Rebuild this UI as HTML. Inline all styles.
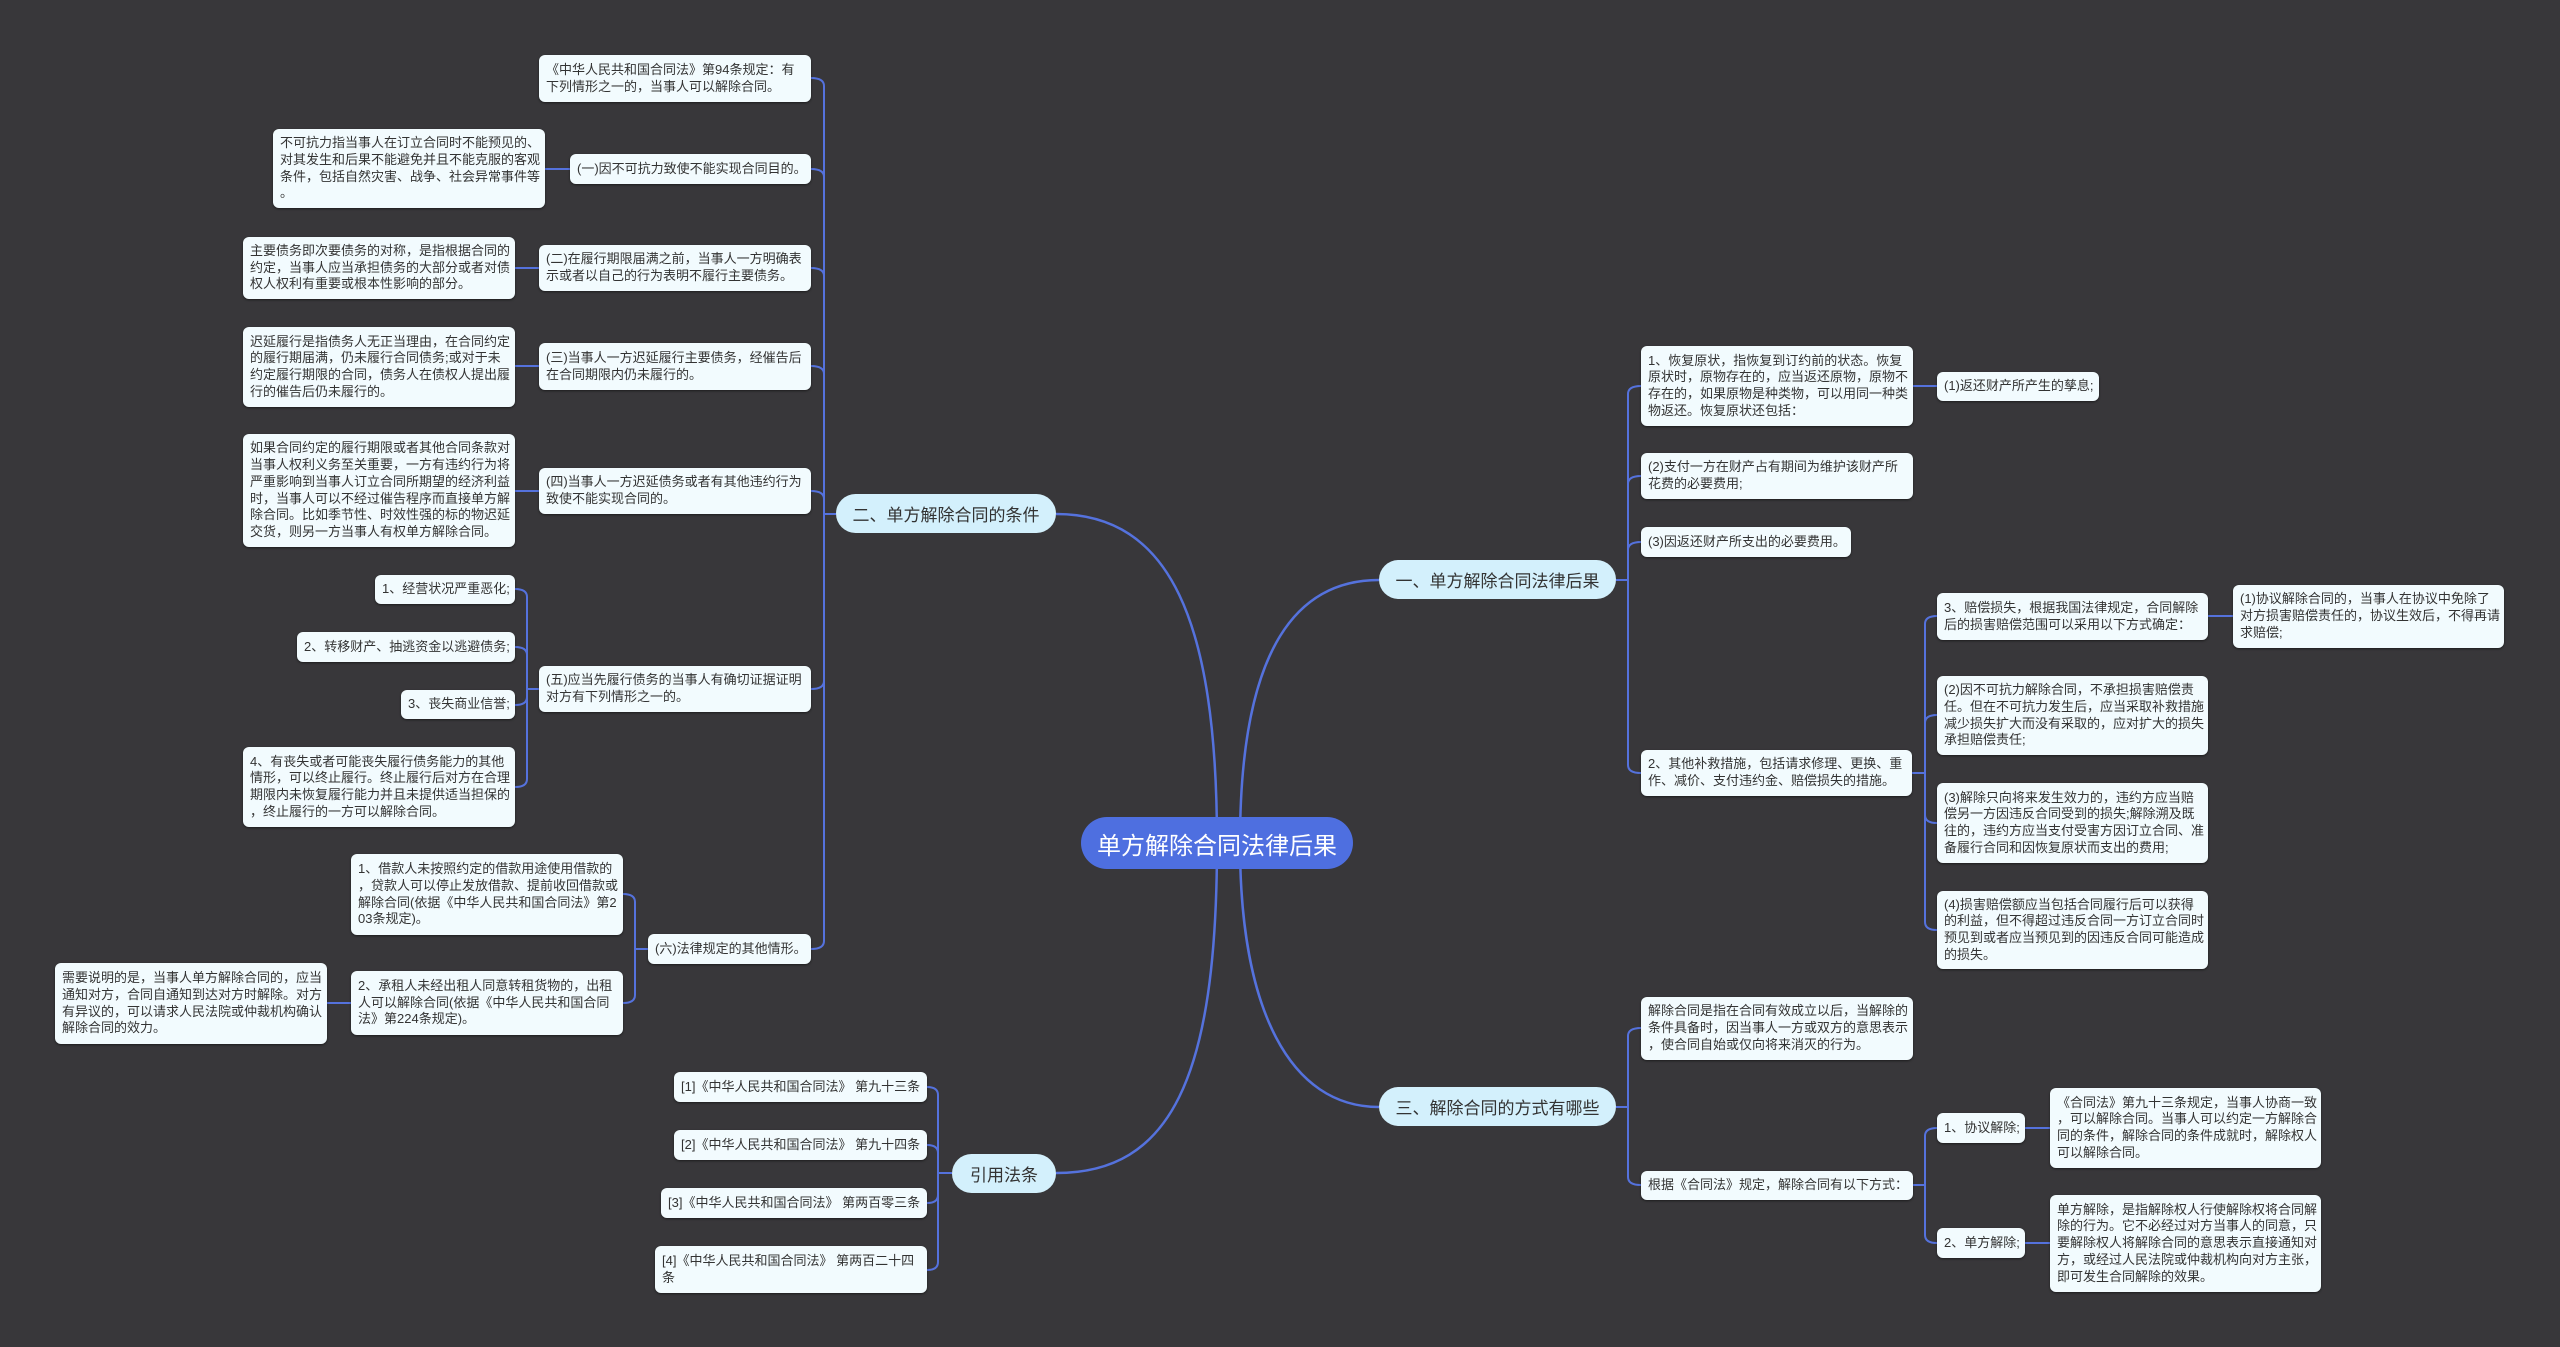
<!DOCTYPE html>
<html><head><meta charset="utf-8">
<style>
body{margin:0;width:2560px;height:1347px;background:#38373a;overflow:hidden;position:relative;font-family:"Liberation Sans","Noto Sans CJK SC",sans-serif;}
svg{position:absolute;left:0;top:0}
.n{position:absolute;box-sizing:border-box;background:#f2fbfe;border-radius:6px;color:#333;font-size:13px;line-height:16.7px;padding:0 7px;display:flex;align-items:center;white-space:nowrap;box-shadow:0 1px 2px rgba(0,0,0,.5)}
.b{position:absolute;box-sizing:border-box;background:#d3f0fc;border-radius:22px;color:#333;font-size:17px;display:flex;align-items:center;justify-content:center;white-space:nowrap}
.r{position:absolute;box-sizing:border-box;background:#4e6fe0;border-radius:30px;color:#fff;font-size:24px;display:flex;align-items:center;justify-content:center;white-space:nowrap}
</style></head><body>
<svg width="2560" height="1347" fill="none" stroke="#5572dd" stroke-width="2">
<!-- main branches -->
<path d="M1217,843 C1217,620 1170,514 1056,514" stroke-width="2.5"/>
<path d="M1240,843 C1240,660 1290,580 1379,580" stroke-width="2.5"/>
<path d="M1240,843 C1240,1010 1290,1107 1379,1107" stroke-width="2.5"/>
<path d="M1217,843 C1217,1080 1170,1173 1056,1173" stroke-width="2.5"/>
<!-- left branch 二 -->
<g>
<path d="M836,514 H824 V86 Q824,78 811,78"/>
<path d="M824,514 V177 Q824,169 811,169"/>
<path d="M824,514 V276 Q824,268 811,268"/>
<path d="M824,514 V374 Q824,366 811,366"/>
<path d="M824,514 V499 Q824,491 811,491"/>
<path d="M824,514 V681 Q824,689 811,689"/>
<path d="M824,514 V941 Q824,949 811,949"/>
<path d="M570,169 H545"/><path d="M539,268 H515"/><path d="M539,366 H515"/><path d="M539,491 H515"/>
<path d="M539,689 H527 V597 Q527,589 515,589"/>
<path d="M527,689 V655 Q527,647 515,647"/>
<path d="M527,689 V697 Q527,705 515,705"/>
<path d="M527,689 V779 Q527,787 515,787"/>
<path d="M648,949 H635 V902 Q635,894 623,894"/>
<path d="M635,949 V995 Q635,1003 623,1003"/>
<path d="M351,1003 H327"/>
<path d="M952,1173 H938 V1095 Q938,1087 927,1087"/>
<path d="M938,1173 V1153 Q938,1145 927,1145"/>
<path d="M938,1173 V1195 Q938,1203 927,1203"/>
<path d="M938,1173 V1262 Q938,1270 927,1270"/>
</g>
<!-- right 一 -->
<path d="M1616,580 H1628 V394 Q1628,386 1641,386"/>
<path d="M1628,580 V484 Q1628,476 1641,476"/>
<path d="M1628,580 V550 Q1628,542 1641,542"/>
<path d="M1628,580 V765 Q1628,773 1641,773"/>
<path d="M1913,386 H1937"/>
<path d="M1912,773 H1925 V624 Q1925,616 1937,616"/>
<path d="M1925,773 V723 Q1925,715 1937,715"/>
<path d="M1925,773 V815 Q1925,823 1937,823"/>
<path d="M1925,773 V922 Q1925,930 1937,930"/>
<path d="M2208,616 H2233"/>
<!-- right 三 -->
<path d="M1616,1107 H1628 V1036 Q1628,1028 1641,1028"/>
<path d="M1628,1107 V1177 Q1628,1185 1641,1185"/>
<path d="M1913,1185 H1925 V1136 Q1925,1128 1937,1128"/>
<path d="M1925,1185 V1235 Q1925,1243 1937,1243"/>
<path d="M2025,1128 H2050"/><path d="M2025,1243 H2050"/>
</svg>

<div class="r" style="left:1081px;top:817px;width:272px;height:52px">单方解除合同法律后果</div>
<div class="b" style="left:836px;top:494px;width:220px;height:39px">二、单方解除合同的条件</div>
<div class="b" style="left:1379px;top:560px;width:237px;height:39px">一、单方解除合同法律后果</div>
<div class="b" style="left:1379px;top:1087px;width:237px;height:39px">三、解除合同的方式有哪些</div>
<div class="b" style="left:952px;top:1154px;width:104px;height:39px">引用法条</div>

<div class="n" style="left:539px;top:55px;width:272px;height:47px">《中华人民共和国合同法》第94条规定：有<br>下列情形之一的，当事人可以解除合同。</div>
<div class="n" style="left:570px;top:154px;width:241px;height:30px">(一)因不可抗力致使不能实现合同目的。</div>
<div class="n" style="left:273px;top:129px;width:272px;height:79px">不可抗力指当事人在订立合同时不能预见的、<br>对其发生和后果不能避免并且不能克服的客观<br>条件，包括自然灾害、战争、社会异常事件等<br>。</div>
<div class="n" style="left:539px;top:245px;width:272px;height:46px">(二)在履行期限届满之前，当事人一方明确表<br>示或者以自己的行为表明不履行主要债务。</div>
<div class="n" style="left:243px;top:237px;width:272px;height:62px">主要债务即次要债务的对称，是指根据合同的<br>约定，当事人应当承担债务的大部分或者对债<br>权人权利有重要或根本性影响的部分。</div>
<div class="n" style="left:539px;top:343px;width:272px;height:47px">(三)当事人一方迟延履行主要债务，经催告后<br>在合同期限内仍未履行的。</div>
<div class="n" style="left:243px;top:327px;width:272px;height:80px">迟延履行是指债务人无正当理由，在合同约定<br>的履行期届满，仍未履行合同债务;或对于未<br>约定履行期限的合同，债务人在债权人提出履<br>行的催告后仍未履行的。</div>
<div class="n" style="left:539px;top:468px;width:272px;height:46px">(四)当事人一方迟延债务或者有其他违约行为<br>致使不能实现合同的。</div>
<div class="n" style="left:243px;top:434px;width:272px;height:113px">如果合同约定的履行期限或者其他合同条款对<br>当事人权利义务至关重要，一方有违约行为将<br>严重影响到当事人订立合同所期望的经济利益<br>时，当事人可以不经过催告程序而直接单方解<br>除合同。比如季节性、时效性强的标的物迟延<br>交货，则另一方当事人有权单方解除合同。</div>
<div class="n" style="left:539px;top:666px;width:272px;height:46px">(五)应当先履行债务的当事人有确切证据证明<br>对方有下列情形之一的。</div>
<div class="n" style="left:375px;top:575px;width:140px;height:29px">1、经营状况严重恶化;</div>
<div class="n" style="left:297px;top:632px;width:218px;height:30px">2、转移财产、抽逃资金以逃避债务;</div>
<div class="n" style="left:401px;top:690px;width:114px;height:29px">3、丧失商业信誉;</div>
<div class="n" style="left:243px;top:747px;width:272px;height:80px">4、有丧失或者可能丧失履行债务能力的其他<br>情形，可以终止履行。终止履行后对方在合理<br>期限内未恢复履行能力并且未提供适当担保的<br>，终止履行的一方可以解除合同。</div>
<div class="n" style="left:648px;top:934px;width:163px;height:30px">(六)法律规定的其他情形。</div>
<div class="n" style="left:351px;top:854px;width:272px;height:81px">1、借款人未按照约定的借款用途使用借款的<br>，贷款人可以停止发放借款、提前收回借款或<br>解除合同(依据《中华人民共和国合同法》第2<br>03条规定)。</div>
<div class="n" style="left:351px;top:971px;width:272px;height:64px">2、承租人未经出租人同意转租货物的，出租<br>人可以解除合同(依据《中华人民共和国合同<br>法》第224条规定)。</div>
<div class="n" style="left:55px;top:963px;width:272px;height:81px">需要说明的是，当事人单方解除合同的，应当<br>通知对方，合同自通知到达对方时解除。对方<br>有异议的，可以请求人民法院或仲裁机构确认<br>解除合同的效力。</div>
<div class="n" style="left:674px;top:1072px;width:253px;height:30px">[1]《中华人民共和国合同法》 第九十三条</div>
<div class="n" style="left:674px;top:1130px;width:253px;height:30px">[2]《中华人民共和国合同法》 第九十四条</div>
<div class="n" style="left:661px;top:1188px;width:266px;height:30px">[3]《中华人民共和国合同法》 第两百零三条</div>
<div class="n" style="left:655px;top:1246px;width:272px;height:47px">[4]《中华人民共和国合同法》 第两百二十四<br>条</div>

<div class="n" style="left:1641px;top:346px;width:272px;height:80px">1、恢复原状，指恢复到订约前的状态。恢复<br>原状时，原物存在的，应当返还原物，原物不<br>存在的，如果原物是种类物，可以用同一种类<br>物返还。恢复原状还包括：</div>
<div class="n" style="left:1937px;top:372px;width:162px;height:29px">(1)返还财产所产生的孳息;</div>
<div class="n" style="left:1641px;top:453px;width:272px;height:46px">(2)支付一方在财产占有期间为维护该财产所<br>花费的必要费用;</div>
<div class="n" style="left:1641px;top:527px;width:210px;height:30px">(3)因返还财产所支出的必要费用。</div>
<div class="n" style="left:1641px;top:750px;width:271px;height:46px">2、其他补救措施，包括请求修理、更换、重<br>作、减价、支付违约金、赔偿损失的措施。</div>
<div class="n" style="left:1937px;top:593px;width:271px;height:47px">3、赔偿损失，根据我国法律规定，合同解除<br>后的损害赔偿范围可以采用以下方式确定：</div>
<div class="n" style="left:2233px;top:585px;width:271px;height:63px">(1)协议解除合同的，当事人在协议中免除了<br>对方损害赔偿责任的，协议生效后，不得再请<br>求赔偿;</div>
<div class="n" style="left:1937px;top:676px;width:271px;height:79px">(2)因不可抗力解除合同，不承担损害赔偿责<br>任。但在不可抗力发生后，应当采取补救措施<br>减少损失扩大而没有采取的，应对扩大的损失<br>承担赔偿责任;</div>
<div class="n" style="left:1937px;top:783px;width:271px;height:80px">(3)解除只向将来发生效力的，违约方应当赔<br>偿另一方因违反合同受到的损失;解除溯及既<br>往的，违约方应当支付受害方因订立合同、准<br>备履行合同和因恢复原状而支出的费用;</div>
<div class="n" style="left:1937px;top:891px;width:271px;height:78px">(4)损害赔偿额应当包括合同履行后可以获得<br>的利益，但不得超过违反合同一方订立合同时<br>预见到或者应当预见到的因违反合同可能造成<br>的损失。</div>
<div class="n" style="left:1641px;top:997px;width:272px;height:63px">解除合同是指在合同有效成立以后，当解除的<br>条件具备时，因当事人一方或双方的意思表示<br>，使合同自始或仅向将来消灭的行为。</div>
<div class="n" style="left:1641px;top:1171px;width:272px;height:29px">根据《合同法》规定，解除合同有以下方式：</div>
<div class="n" style="left:1937px;top:1113px;width:88px;height:30px">1、协议解除;</div>
<div class="n" style="left:1937px;top:1228px;width:88px;height:30px">2、单方解除;</div>
<div class="n" style="left:2050px;top:1088px;width:271px;height:80px">《合同法》第九十三条规定，当事人协商一致<br>，可以解除合同。当事人可以约定一方解除合<br>同的条件，解除合同的条件成就时，解除权人<br>可以解除合同。</div>
<div class="n" style="left:2050px;top:1195px;width:271px;height:97px">单方解除，是指解除权人行使解除权将合同解<br>除的行为。它不必经过对方当事人的同意，只<br>要解除权人将解除合同的意思表示直接通知对<br>方，或经过人民法院或仲裁机构向对方主张，<br>即可发生合同解除的效果。</div>
</body></html>
